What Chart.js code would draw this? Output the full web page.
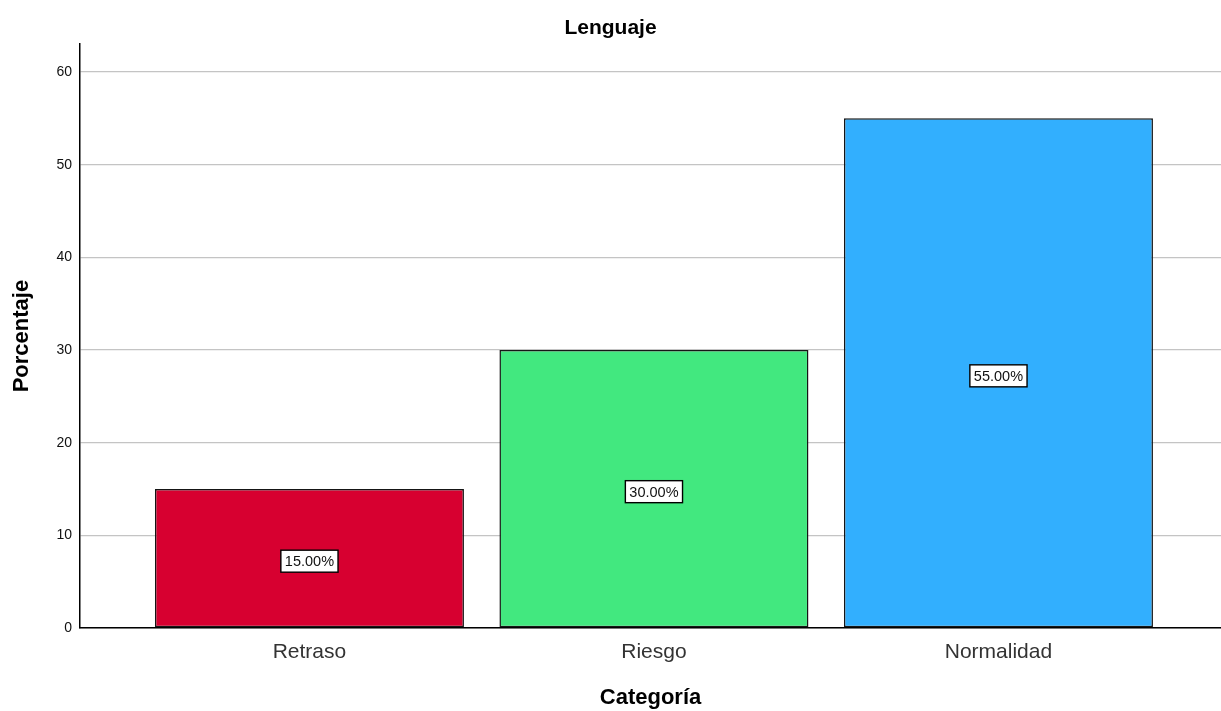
<!DOCTYPE html>
<html>
<head>
<meta charset="utf-8">
<script src="https://cdn.jsdelivr.net/npm/chart.js@4/dist/chart.umd.min.js"></script>
<style>
  html, body { margin: 0; padding: 0; background: #fff; }
  #wrap { width: 1221px; height: 711px; }
</style>
</head>
<body>
<div id="wrap"><canvas id="chart" width="1221" height="711"></canvas></div>
<script>
const categories = ['Retraso', 'Riesgo', 'Normalidad'];
const percentages = [15, 30, 55];
const barColors = ['#D70030', '#42E87F', '#32AFFE'];
const yTicks = [0, 10, 20, 30, 40, 50, 60];

const FONT = '"Liberation Sans", Arial, sans-serif';

// white boxed labels in the middle of each bar
const boxLabels = {
    id: 'boxLabels',
    afterDatasetsDraw(chart) {
        const ctx = chart.ctx;
        const meta = chart.getDatasetMeta(0);
        ctx.save();
        ctx.letterSpacing = '0px';
        ctx.font = '14.5px ' + FONT;
        ctx.textAlign = 'center';
        ctx.textBaseline = 'middle';
        meta.data.forEach((bar, i) => {
            const text = percentages[i].toFixed(2) + '%';
            const w = ctx.measureText(text).width + 8;
            const h = 22;
            const cx = bar.x;
            const cy = (bar.y + bar.base) / 2 + 3;
            ctx.fillStyle = '#fff';
            ctx.fillRect(cx - w / 2, cy - h / 2, w, h);
            ctx.strokeStyle = '#000';
            ctx.lineWidth = 1.4;
            ctx.strokeRect(cx - w / 2, cy - h / 2, w, h);
            ctx.fillStyle = '#111';
            ctx.fillText(text, cx, cy + 1);
        });
        ctx.restore();
    }
};

const ctx = document.getElementById('chart').getContext('2d');
ctx.letterSpacing = '1px';

new Chart(ctx, {
    type: 'bar',
    data: {
        datasets: [{
            data: percentages.map((v, i) => ({ x: i, y: v })),
            backgroundColor: barColors,
            borderColor: '#151515',
            borderWidth: 1.5,
            borderSkipped: false,
            barPercentage: 0.897,
            categoryPercentage: 1
        }]
    },
    options: {
        responsive: false,
        animation: false,
        layout: { padding: 0 },
        plugins: {
            legend: { display: false },
            tooltip: { enabled: false },
            title: {
                display: true,
                text: 'Lenguaje',
                color: '#000',
                font: { family: FONT, size: 21, weight: 'bold' },
                padding: { top: 16, bottom: 3 }
            }
        },
        scales: {
            x: {
                type: 'linear',
                offset: false,
                min: -0.666,
                max: 2.646,
                afterBuildTicks: axis => { axis.ticks = categories.map((c, i) => ({ value: i })); },
                afterFit: axis => { axis.height = 83; },
                grid: { display: false, drawTicks: false },
                border: { color: '#000', width: 1.5 },
                ticks: {
                    callback: v => categories[v],
                    color: '#333',
                    padding: 12,
                    maxRotation: 0,
                    font: { family: FONT, size: 21 }
                },
                title: {
                    display: true,
                    text: 'Categoría',
                    color: '#000',
                    font: { family: FONT, size: 22, weight: 'bold' },
                    padding: { top: 0, bottom: 0 }
                }
            },
            y: {
                min: 0,
                max: 63,
                afterBuildTicks: axis => { axis.ticks = yTicks.map(v => ({ value: v })); },
                afterFit: axis => { axis.width = 80; },
                grid: { color: '#c4c4c4', lineWidth: 1.3, drawTicks: false },
                border: { color: '#000', width: 1.5 },
                ticks: {
                    color: '#111',
                    padding: 8,
                    font: { family: FONT, size: 14 }
                },
                title: {
                    display: true,
                    text: 'Porcentaje',
                    color: '#000',
                    font: { family: FONT, size: 22, weight: 'bold' },
                    padding: { top: 9, bottom: 0 }
                }
            }
        }
    },
    plugins: [boxLabels]
});
</script>
</body>
</html>
